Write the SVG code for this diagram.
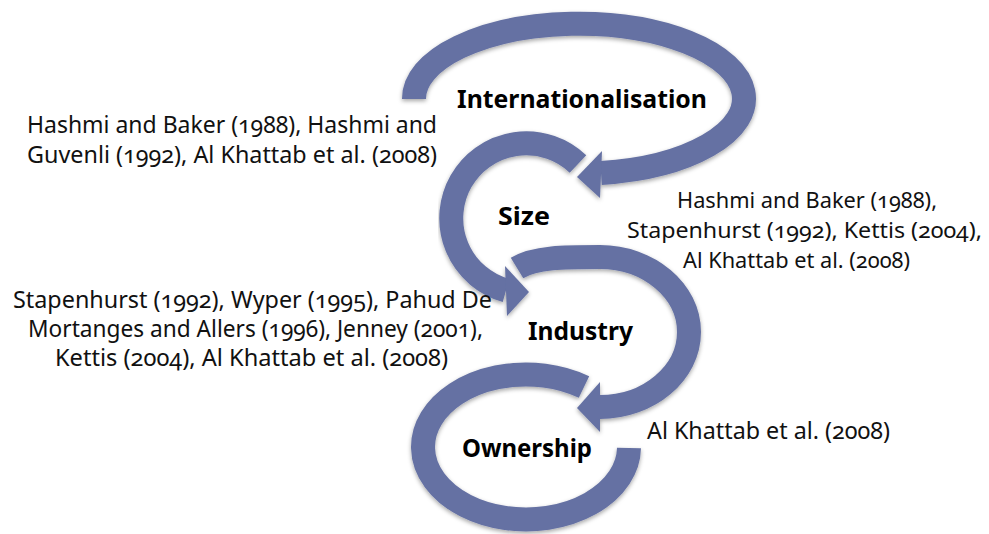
<svg xmlns="http://www.w3.org/2000/svg" width="989" height="534" viewBox="0 0 989 534">
<defs>
<filter id="sh" x="-10%" y="-10%" width="120%" height="130%">
<feDropShadow dx="0" dy="2" stdDeviation="2" flood-color="#000" flood-opacity="0.35"/>
</filter>
</defs>
<style>
.band{fill:none;stroke:#6571a3;stroke-width:24;stroke-linecap:butt}
.head{fill:#6571a3;stroke:none}
.arc{filter:url(#sh)}
.ref{font-family:"Noto Sans","Open Sans","Liberation Sans",sans-serif;font-size:23px;fill:#111;font-variant-numeric:oldstyle-nums}
.sm{font-size:21.5px}
.lbl{font-family:"Noto Sans","Open Sans","Liberation Sans",sans-serif;font-size:25px;font-weight:bold;fill:#000}
</style>
<rect width="989" height="534" fill="#fff"/>
<g id="connectors">
<g id="arc-internationalisation" class="arc">
<path class="band" d="M414,99 A165,75 0 1 1 601,173"/>
<polygon class="head" points="602,151 577,177 600,198"/>
</g>
<g id="arc-size" class="arc">
<path class="band" d="M578,164 A75,75 0 1 0 506,290.5"/>
<polygon class="head" points="505,266 529,292 507,316"/>
</g>
<g id="arc-industry" class="arc">
<path class="band" d="M517,268 C535,257 565,257 600,257 C649,257 689,291 689,332 C689,373 649,407 600,407"/>
<polygon class="head" points="600,382 577,408 600,432"/>
</g>
<g id="arc-ownership" class="arc">
<path class="band" d="M584,387 A103,72.5 0 1 0 629,448"/>
</g>
</g>
<g id="node-internationalisation">
<text class="lbl" x="457" y="108" textLength="250" lengthAdjust="spacingAndGlyphs">Internationalisation</text>
<text class="ref" x="27" y="133" textLength="410" lengthAdjust="spacingAndGlyphs">Hashmi and Baker (1988), Hashmi and</text>
<text class="ref" x="27" y="163" textLength="410" lengthAdjust="spacingAndGlyphs">Guvenli (1992), Al Khattab et al. (2008)</text>
</g>
<g id="node-size">
<text class="lbl" x="498" y="225" textLength="52" lengthAdjust="spacingAndGlyphs">Size</text>
<text class="ref sm" x="677" y="208" textLength="260" lengthAdjust="spacingAndGlyphs">Hashmi and Baker (1988),</text>
<text class="ref sm" x="627" y="238" textLength="355" lengthAdjust="spacingAndGlyphs">Stapenhurst (1992), Kettis (2004),</text>
<text class="ref sm" x="683" y="268" textLength="227" lengthAdjust="spacingAndGlyphs">Al Khattab et al. (2008)</text>
</g>
<g id="node-industry">
<text class="lbl" x="528" y="340" textLength="105" lengthAdjust="spacingAndGlyphs">Industry</text>
<text class="ref" x="13" y="308" textLength="479" lengthAdjust="spacingAndGlyphs">Stapenhurst (1992), Wyper (1995), Pahud De</text>
<text class="ref" x="28" y="337" textLength="455" lengthAdjust="spacingAndGlyphs">Mortanges and Allers (1996), Jenney (2001),</text>
<text class="ref" x="55" y="366" textLength="393" lengthAdjust="spacingAndGlyphs">Kettis (2004), Al Khattab et al. (2008)</text>
</g>
<g id="node-ownership">
<text class="lbl" x="462" y="457" textLength="130" lengthAdjust="spacingAndGlyphs">Ownership</text>
<text class="ref" x="647" y="439" textLength="243" lengthAdjust="spacingAndGlyphs">Al Khattab et al. (2008)</text>
</g>
</svg>
